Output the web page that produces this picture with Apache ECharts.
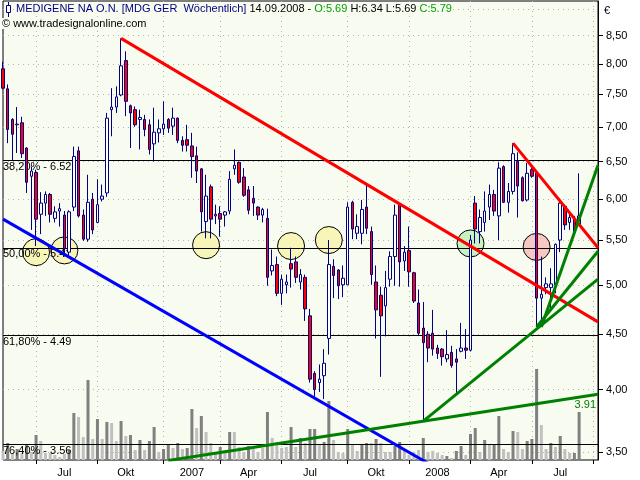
<!DOCTYPE html>
<html><head><meta charset="utf-8">
<script src="https://cdn.jsdelivr.net/npm/echarts@6/dist/echarts.min.js"></script>
<style>html,body{margin:0;padding:0;background:#fff}#c{width:640px;height:480px}</style>
</head><body><div id="c"></div>
<script>
// ---- data (weekly candles, MEDIGENE NA O.N.) ----
const firstWeek = [2006, 5, 8];
const extraWeeks = 4;
const open = [7.92,7.59,7.11,7.03,7.06,6.69,6.30,6.35,5.81,5.95, 6.06,5.76,5.85,5.80,5.36,5.90,6.65,5.80,5.51,6.00, 5.71,6.00,6.08,7.26,7.30,7.49,8.06,7.32,7.26,7.11, 7.11,7.03,6.75,6.91,6.97,7.11,7.01,7.13,6.80,6.81, 6.72,6.58,6.40,5.72,6.16,5.79,5.82,5.80,5.85,6.40, 6.49,6.29,6.12,6.01,5.90,5.80,5.76,5.15,5.22,4.91, 5.00,5.23,5.25,5.03,5.08,4.68,4.14,4.06,4.12,4.46, 5.20,5.16,5.00,5.00,5.96,5.58,5.58,5.90,5.60,5.03, 4.89,4.78,5.06,5.31,5.93,5.26,5.38,5.13,4.81,4.56, 4.50,4.51,4.37,4.36,4.27,4.33,4.27,4.34,4.37,4.35, 5.95,5.60,5.71,5.90,6.06,5.79,6.43,5.96,6.10,6.50, 6.28,5.99,6.39,6.34,4.86,4.97,4.97,5.00,5.50,5.91, 5.71,5.76,5.69];
const high = [8.04,7.66,7.13,7.30,7.15,6.70,6.43,6.39,6.09,6.10, 6.08,5.91,5.95,5.85,5.86,6.71,6.71,5.87,6.32,6.08, 6.26,6.19,7.21,7.60,7.63,8.45,8.22,7.34,7.31,7.26, 7.18,7.11,7.29,7.11,7.39,7.13,7.29,7.14,6.86,7.03, 6.91,6.71,6.41,6.32,6.19,5.93,5.91,5.85,6.37,6.67, 6.50,6.41,6.17,6.17,5.91,5.89,5.88,5.39,5.31,5.11, 5.11,5.41,5.31,5.17,5.11,4.75,4.16,4.22,4.36,5.50, 5.28,5.17,5.21,5.96,5.98,5.81,5.99,6.20,5.66,5.21, 4.98,5.15,5.37,5.93,5.95,5.43,5.66,5.14,4.95,4.82, 4.53,4.74,4.40,4.37,4.54,4.39,4.36,4.61,4.55,5.56, 6.04,5.87,6.10,6.19,6.12,6.49,6.45,6.21,6.76,6.63, 6.30,6.48,6.41,6.37,5.31,5.08,5.18,5.46,6.01,5.93, 5.83,5.79,6.34];
const low = [7.58,6.76,6.52,6.62,6.55,6.08,5.62,5.43,5.57,5.79, 5.71,5.71,5.66,5.31,5.31,5.85,5.77,5.49,5.48,5.57, 5.70,5.97,6.03,6.86,7.21,7.47,7.16,6.69,7.00,6.67, 6.86,6.60,6.50,6.77,6.88,6.91,6.88,6.76,6.64,6.64, 6.28,6.21,5.60,5.52,5.52,5.69,5.54,5.66,5.81,6.32, 6.20,6.03,5.81,5.79,5.74,5.71,4.99,5.10,4.88,4.79, 4.91,4.97,5.02,4.95,4.63,4.06,3.94,3.98,3.92,4.31, 4.86,4.85,4.87,5.00,5.51,5.51,5.45,5.57,5.00,4.46, 4.11,4.48,4.98,4.99,4.98,5.15,4.98,4.81,4.49,3.74, 4.24,4.30,4.27,4.21,4.24,4.19,3.97,4.33,4.27,4.34, 5.46,5.46,5.60,5.74,5.79,5.50,5.95,5.83,6.06,5.77, 5.97,5.97,6.28,4.57,4.60,4.90,4.76,4.91,5.36,5.62, 5.62,5.57,5.69];
const close = [7.60,6.96,6.89,7.04,6.61,6.22,6.37,5.75,5.95,6.06, 5.81,5.84,5.88,5.40,5.84,6.57,5.79,5.51,5.96,5.62, 5.93,6.04,7.13,7.30,7.46,7.97,7.39,7.21,7.03,7.14, 6.96,6.67,6.92,6.97,7.04,6.98,7.13,6.80,6.73,6.73, 6.57,6.37,5.84,6.04,5.75,5.81,5.75,5.84,6.26,6.45, 6.22,6.05,5.86,5.95,5.80,5.87,5.08,5.21,4.91,5.06, 5.03,5.17,5.08,5.11,4.75,4.09,4.00,4.09,4.23,5.22, 5.10,4.99,5.07,5.90,5.63,5.66,5.87,5.64,5.11,4.74, 4.68,4.97,5.31,5.80,5.25,5.36,5.14,4.83,4.51,4.42, 4.37,4.36,4.32,4.29,4.31,4.21,4.24,4.37,4.35,5.50, 5.63,5.77,5.85,6.06,5.85,6.41,5.96,6.10,6.61,6.17, 5.98,6.34,6.30,4.86,4.90,5.01,5.01,5.45,5.95,5.68, 5.77,5.60,5.79];
const volume = [9,17,7,11,7,16,8,25,19,7, 7,5,3,6,10,47,43,23,80,21, 41,21,38,37,19,39,24,25,10,20, 10,19,33,8,11,15,12,17,11,12, 51,32,44,28,17,8,13,10,28,28, 13,8,14,11,8,12,48,22,18,12, 13,33,13,22,17,31,31,15,18,59, 20,8,7,31,15,9,15,17,17,21, 17,8,8,14,18,10,5,8,10,22, 8,9,7,5,4,2,9,14,5,26, 32,8,20,15,16,44,11,8,29,28, 11,19,21,91,35,11,17,13,24,11, 7,7,48];
const volumeDark = [0,1,0,1,0,1,0,1,0,0, 0,0,0,0,1,1,0,0,1,0, 1,0,1,0,0,1,0,1,0,1, 0,1,1,0,1,1,0,1,0,1, 1,0,1,0,0,0,1,0,1,0, 0,0,1,0,0,0,1,0,0,0, 0,1,0,1,0,1,1,0,1,1, 0,0,0,1,0,0,1,1,0,1, 0,0,0,1,1,0,0,0,0,1, 0,0,0,0,1,0,1,1,0,1, 1,0,1,0,1,1,0,0,1,0, 0,1,1,1,0,0,1,0,1,0, 0,1,1];

const xTickIdx = [7,20,34,46,59,73,86,99,112,125];
const xLabelIdx = [13,26,40,52,65,79,92,105,118];
const xLabelText = ['Jul','Okt','2007','Apr','Jul','Okt','2008','Apr','Jul'];
const yTicks = [3.5,4,4.5,5,5.5,6,6.5,7,7.5,8,8.5];
const yMin = 3.443, yMax = 9.15;

const fibPct = ['38,20%','50,00%','61,80%','76,40%'];
const fibVal = [6.52,5.41,4.49,3.56];

const circleIdx = [7,13,43,61,69,99,113];
const circleVal = [5.36,5.38,5.44,5.43,5.50,5.46,5.42];
const circleFill = ['#f7f5b8','#f7f5b8','#f7f5b8','#f7f5b8','#f7f5b8','#c9f2c3','#f5c8c2'];

const redLongLine  = [[25, 8.45], [126, 4.62]];
const redShortLine = [[108, 6.76], [126, 5.41]];
const blueLine     = [[0, 5.75], [92, 3.38]];
const greenLineA   = [[35, 3.44], [126, 3.96]];
const greenLineB   = [[89, 3.74], [126, 5.06]];
const greenLineC   = [[114, 4.57], [126, 6.45]];
const greenLineD   = [[113, 4.57], [126, 5.37]];
const greenLabel   = '3.91';

// ---- build ----
const FONT = 'Liberation Sans, Arial, sans-serif';
const BG = '#f8fbf0';
const cats = [];
const t0 = Date.UTC(firstWeek[0], firstWeek[1]-1, firstWeek[2]);
for (let i = 0; i < open.length + extraWeeks; i++) {
  const d = new Date(t0 + i*7*86400000);
  const p = n => (n<10?'0':'')+n;
  cats.push(p(d.getUTCDate())+'.'+p(d.getUTCMonth()+1)+'.'+d.getUTCFullYear());
}
const tickSet = new Set(xTickIdx);
const labelMap = new Map(xLabelIdx.map((k,i)=>[k, xLabelText[i]]));
const last = open.length-1;
const f2 = v => v.toFixed(2);

const candleData = open.map((o,i)=>[o, close[i], low[i], high[i]]);
const volData = volume.map((v,i)=>({value:v, itemStyle:{color: volumeDark[i] ? '#808080' : '#c0c0c0'}}));

function trend(data, color, extra) {
  return Object.assign({type:'line', data:data, symbol:'none', silent:true, z:5, clip:true,
    lineStyle:{color:color, width:3}, animation:false}, extra||{});
}

const chart = echarts.init(document.getElementById('c'));
chart.setOption({
  animation:false,
  backgroundColor:'#ffffff',
  textStyle:{fontFamily:FONT},
  title:[
    {left:16, top:3, padding:0, backgroundColor:BG,
     text:'{n|MEDIGENE NA O.N. [MDG GER  Wöchentlich]} {k|14.09.2008 -} {g|O:'+f2(open[last])+'} {k|H:'+f2(high[last])+' L:'+f2(low[last])+'} {g|C:'+f2(close[last])+'}',
     textStyle:{fontSize:11, fontWeight:'normal', fontFamily:FONT, rich:{
       n:{color:'#000080', fontSize:11, fontFamily:FONT},
       k:{color:'#000000', fontSize:11, fontFamily:FONT},
       g:{color:'#00a000', fontSize:11, fontFamily:FONT}}}},
    {left:2, top:18, padding:0, backgroundColor:BG, text:'© www.tradesignalonline.com',
     textStyle:{fontSize:11, fontWeight:'normal', color:'#000', fontFamily:FONT}}
  ],
  graphic:[
    {type:'line', z:100, shape:{x1:8.5,y1:2,x2:8.5,y2:17}, style:{stroke:'#000080', lineWidth:1}},
    {type:'rect', z:101, shape:{x:6.5,y:5.5,width:4,height:7}, style:{fill:'#ffffff', stroke:'#000080', lineWidth:1}}
  ],
  grid:{left:3, right:42, top:1, bottom:20, show:true, backgroundColor:BG, borderColor:'#000', borderWidth:1},
  xAxis:{type:'category', data:cats, boundaryGap:false, offset:3,
    axisLine:{show:false},
    axisTick:{show:true, length:4, interval:(i)=>tickSet.has(i), lineStyle:{color:'#000'}},
    axisLabel:{interval:(i)=>labelMap.has(i), formatter:(v,i)=>labelMap.get(i)||'', color:'#000', fontSize:11, fontFamily:FONT, margin:4},
    splitLine:{show:true, interval:(i)=>tickSet.has(i), lineStyle:{color:'#b4b4b4', type:[1,4], width:1}}
  },
  yAxis:[
    {type:'log', position:'right', min:yMin, max:yMax,
     name:'€', nameLocation:'end', nameGap:-10,
     nameTextStyle:{align:'left', verticalAlign:'middle', padding:[0,0,0,6], color:'#000', fontSize:11, fontFamily:FONT},
     axisLine:{show:true, lineStyle:{color:'#000'}},
     axisTick:{show:true, length:5, customValues:yTicks, lineStyle:{color:'#000'}},
     axisLabel:{customValues:yTicks, formatter:v=>Number(v).toFixed(2).replace('.',','), margin:8, color:'#000', fontSize:11, fontFamily:FONT},
     splitLine:{show:true, lineStyle:{color:'#b4b4b4', type:[1,4], width:1}}},
    {type:'value', min:0, max:459, show:false, splitLine:{show:false}}
  ],
  series:[
    {type:'bar', yAxisIndex:1, data:volData, barWidth:3, z:1, silent:true},
    {type:'scatter', data:circleIdx.map((x,i)=>({value:[x, circleVal[i]], itemStyle:{color:circleFill[i]}})),
     symbolSize:27, z:2, silent:true, itemStyle:{borderColor:'#000', borderWidth:1, opacity:1},
     markLine:{z:3, silent:true, symbol:'none', animation:false,
       lineStyle:{color:'#000', width:1, type:'solid'},
       label:{show:true, position:'insideStartBottom', distance:[0,1], color:'#000', fontSize:11, fontFamily:FONT},
       data: fibVal.map((v,i)=>({yAxis:v, label:{formatter:fibPct[i]+' - '+f2(v)}})).concat([
         {yAxis:9, lineStyle:{color:'#b4b4b4', type:[1,4], width:1}, label:{show:false}}])}},
    {type:'candlestick', data:candleData, barWidth:3, z:4, silent:true,
     itemStyle:{color:'#ffffff', color0:'#ff0000', borderColor:'#000080', borderColor0:'#000080', borderWidth:1}},
    trend(blueLine, '#0000ff'),
    trend(redLongLine, '#ff0000'),
    trend(redShortLine, '#ff0000'),
    trend(greenLineA, '#008000', {markPoint:{symbol:'rect', symbolSize:1, silent:true, itemStyle:{color:'rgba(0,0,0,0)'},
      label:{show:true, position:'bottom', distance:5, align:'right', offset:[-2,0], formatter:greenLabel, color:'#008000', fontSize:11, fontFamily:FONT},
      data:[{coord:greenLineA[1]}]}}),
    trend(greenLineB, '#008000'),
    trend(greenLineC, '#008000'),
    trend(greenLineD, '#008000')
  ]
});
</script></body></html>
